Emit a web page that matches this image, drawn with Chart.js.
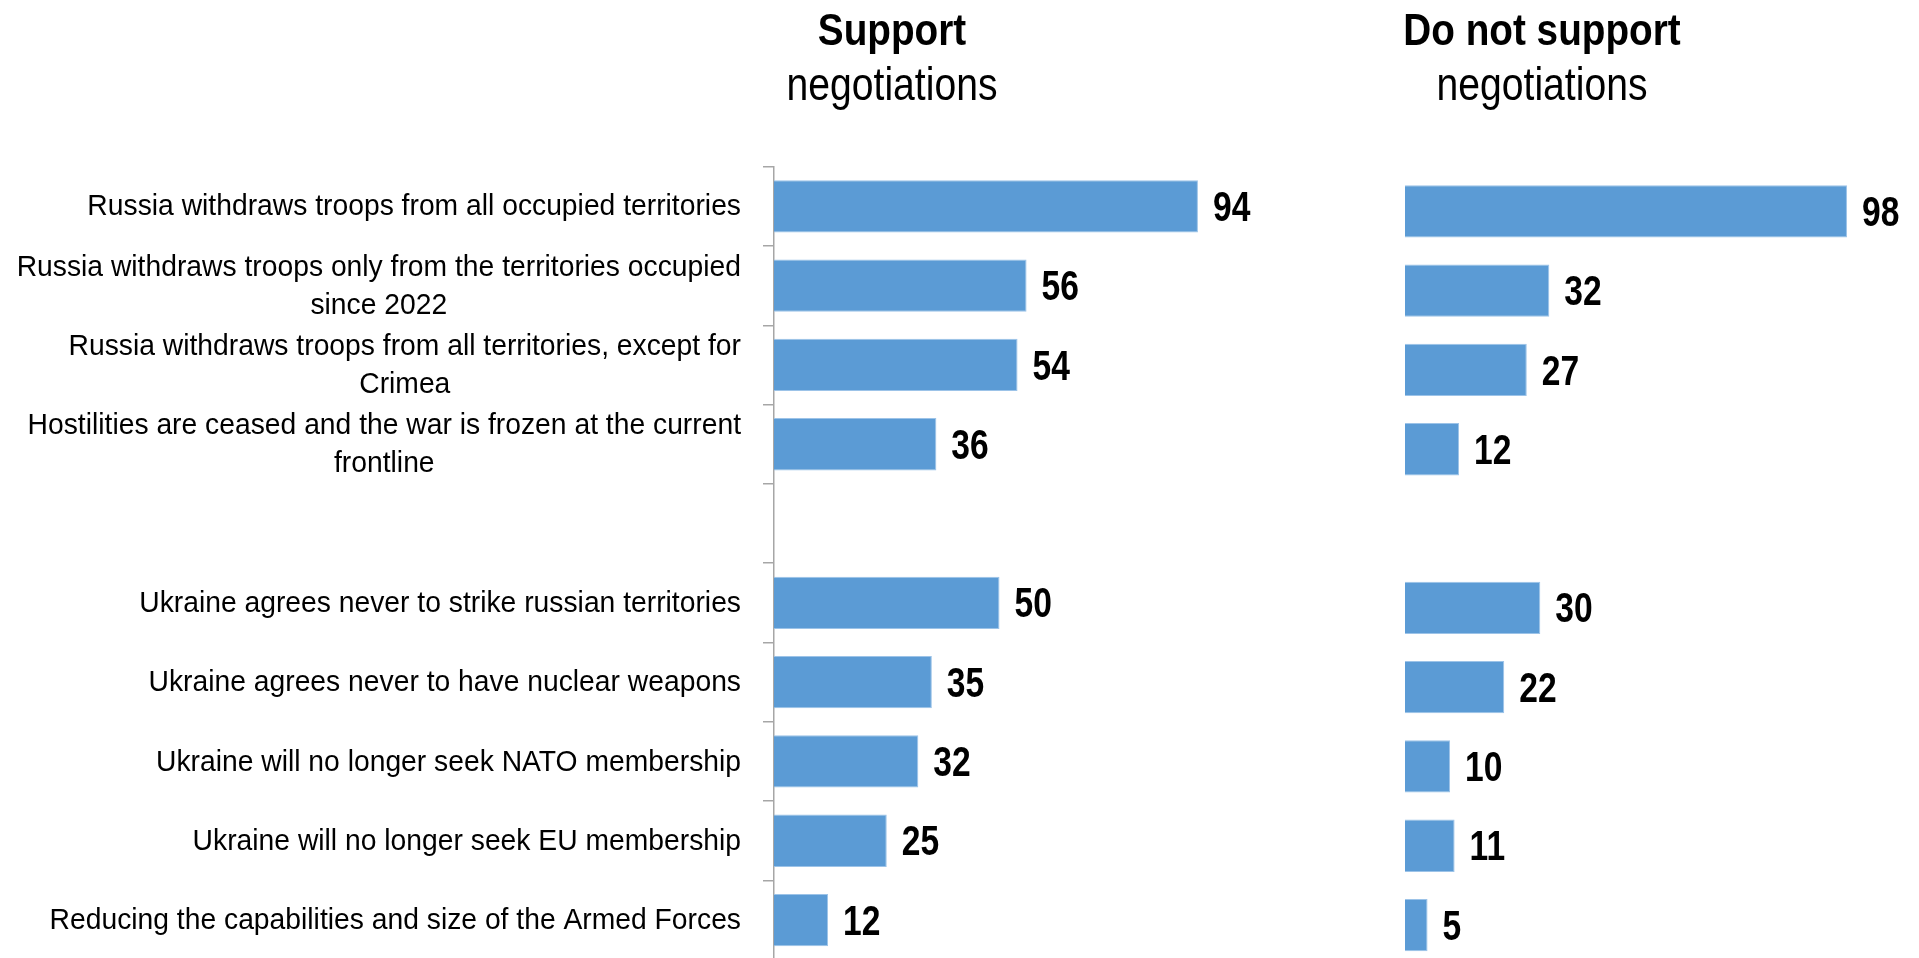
<!DOCTYPE html>
<html lang="en">
<head>
    <meta charset="UTF-8">
    <title>Conditions for negotiations</title>
    <script src="https://cdn.jsdelivr.net/npm/chart.js"></script>
    <style>
        html, body { margin: 0; padding: 0; background: #fff; overflow: hidden; }
        canvas { position: absolute; left: 0; top: 0; }
    </style>
</head>
<body>
    <canvas id="supportChart" width="1919" height="967"></canvas>
    <canvas id="opposeChart" width="1919" height="967"></canvas>

    <script>
        const categories = [
            ['Russia withdraws troops from all occupied territories'],
            ['Russia withdraws troops only from the territories occupied', 'since 2022'],
            ['Russia withdraws troops from all territories, except for', 'Crimea'],
            ['Hostilities are ceased and the war is frozen at the current', 'frontline'],
            [''],
            ['Ukraine agrees never to strike russian territories'],
            ['Ukraine agrees never to have nuclear weapons'],
            ['Ukraine will no longer seek NATO membership'],
            ['Ukraine will no longer seek EU membership'],
            ['Reducing the capabilities and size of the Armed Forces']
        ];
        const supportValues = [94, 56, 54, 36, null, 50, 35, 32, 25, 12];
        const opposeValues = [98, 32, 27, 12, null, 30, 22, 10, 11, 5];
        const supportTitle = ['Support', 'negotiations'];
        const opposeTitle = ['Do not support', 'negotiations'];

        const BLUE = '#5b9bd5';
        const FONT = '"Liberation Sans", Arial, sans-serif';

        // no narrow face installed, so squeeze Liberation Sans horizontally
        function narrowText(ctx, text, x, y, squeeze) {
            ctx.save();
            ctx.translate(x, y);
            ctx.scale(squeeze, 1);
            ctx.fillText(text, 0, 0);
            ctx.restore();
        }

        // left side labels: lines centred on each other, block right aligned
        const categoryLabels = {
            id: 'categoryLabels',
            afterDraw(chart) {
                const ctx = chart.ctx;
                const y = chart.scales.y;
                const squeeze = 0.965;
                ctx.save();
                ctx.font = '29.3px ' + FONT;
                ctx.fillStyle = '#000';
                ctx.textAlign = 'center';
                ctx.textBaseline = 'middle';
                const right = y.right - 33;
                y.getLabels().forEach((lines, i) => {
                    const yc = y.getPixelForValue(i);
                    const w = Math.max(...lines.map(l => ctx.measureText(l).width)) * squeeze;
                    lines.forEach((line, j) => {
                        narrowText(ctx, line, right - w / 2, yc + 1 + (j - (lines.length - 1) / 2) * 38, squeeze);
                    });
                });
                ctx.restore();
            }
        };

        const valueLabels = {
            id: 'valueLabels',
            afterDatasetsDraw(chart) {
                const ctx = chart.ctx;
                const values = chart.data.datasets[0].data;
                ctx.save();
                ctx.font = 'bold 42px ' + FONT;
                ctx.fillStyle = '#000';
                ctx.textAlign = 'left';
                ctx.textBaseline = 'middle';
                chart.getDatasetMeta(0).data.forEach((bar, i) => {
                    if (values[i] == null) return;
                    narrowText(ctx, String(values[i]), bar.x + 15, bar.y + 3, 0.8);
                });
                ctx.restore();
            }
        };

        const headers = {
            id: 'headers',
            afterDraw(chart, args, opts) {
                const ctx = chart.ctx;
                ctx.save();
                ctx.fillStyle = '#000';
                ctx.textAlign = 'center';
                ctx.textBaseline = 'alphabetic';
                ctx.font = 'bold 44px ' + FONT;
                narrowText(ctx, opts.text[0], opts.x, 45, 0.88);
                ctx.font = '46px ' + FONT;
                narrowText(ctx, opts.text[1], opts.x, 100, 0.85);
                ctx.restore();
            }
        };

        function makeChart(id, values, title, titleX, padding, showAxis) {
            const yScale = {
                display: showAxis,
                border: { display: true, color: '#a6a6a6', width: 1.5 },
                grid: { drawOnChartArea: false, drawTicks: true, tickLength: 11, color: '#a6a6a6', lineWidth: 1.5 },
                ticks: { display: false }
            };
            if (showAxis) yScale.afterFit = scale => { scale.width = 774; };
            return new Chart(document.getElementById(id), {
                type: 'bar',
                data: {
                    labels: categories,
                    datasets: [{
                        data: values,
                        backgroundColor: BLUE,
                        borderColor: '#9cc3e8',
                        borderWidth: 1,
                        barPercentage: 0.66,
                        categoryPercentage: 1
                    }]
                },
                options: {
                    indexAxis: 'y',
                    responsive: false,
                    animation: false,
                    layout: { padding: padding },
                    scales: {
                        x: { display: false, min: 0, max: 100 },
                        y: yScale
                    },
                    plugins: {
                        legend: { display: false },
                        tooltip: { enabled: false },
                        headers: { text: title, x: titleX }
                    }
                },
                plugins: [valueLabels, headers].concat(showAxis ? [categoryLabels] : [])
            });
        }

        makeChart('supportChart', supportValues, supportTitle, 892,
            { left: 0, right: 694, top: 166.7, bottom: 7.3 }, true);
        makeChart('opposeChart', opposeValues, opposeTitle, 1542,
            { left: 1405, right: 63, top: 171.7, bottom: 2.3 }, false);
    </script>
</body>
</html>
